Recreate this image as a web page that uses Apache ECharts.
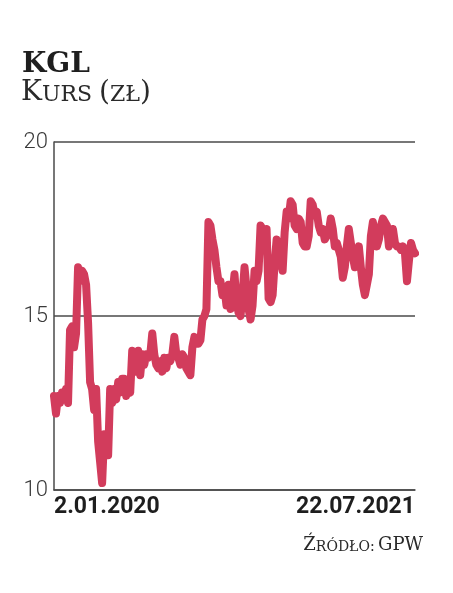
<!DOCTYPE html>
<html>
<head>
<meta charset="utf-8">
<script src="https://cdn.jsdelivr.net/npm/echarts@6/dist/echarts.min.js"></script>
<style>html,body{margin:0;padding:0;background:#fff}#c{width:453px;height:593px}</style>
</head>
<body>
<div id="c"></div>
<script>
const titleMain = 'KGL';
const xLabels = ['2.01.2020', '22.07.2021'];
const yTicks = [10, 15, 20];
const prices = [
12.7,12.2,12.7,12.5,12.8,12.6,12.9,12.5,14.6,14.7,
14.1,14.5,16.4,16.0,16.3,16.2,15.9,14.8,13.1,12.9,
12.3,12.9,11.4,10.8,10.2,11.6,11.0,11.0,12.9,12.5,
12.9,12.6,13.1,12.8,13.2,13.2,12.7,13.0,12.8,14.0,
13.9,13.4,14.0,13.3,13.9,13.6,13.9,13.8,13.9,14.5,
13.9,13.6,13.5,13.7,13.4,13.8,13.5,13.8,13.7,13.9,
14.4,13.9,13.8,13.6,13.9,13.8,13.5,13.4,13.3,14.1,
14.4,14.2,14.2,14.3,14.9,15.0,15.2,17.7,17.6,17.2,
16.9,16.4,16.0,16.0,15.6,15.8,15.3,15.9,15.2,15.6,
16.2,15.4,15.1,15.0,15.6,16.4,15.8,15.2,14.9,15.3,
16.3,16.0,16.3,17.6,17.5,17.0,17.5,15.5,15.4,15.6,
16.5,17.2,17.0,16.6,16.3,17.4,18.0,17.8,18.3,18.2,
17.6,17.5,17.8,17.7,17.1,17.0,17.0,17.3,18.3,18.2,
17.9,18.0,17.6,17.4,17.5,17.2,17.3,17.4,17.8,17.5,
17.0,17.1,16.9,16.7,16.1,16.4,17.0,17.5,17.1,16.7,
16.4,16.6,17.0,16.4,15.9,15.6,15.9,16.2,17.3,17.7,
17.3,17.0,17.2,17.6,17.8,17.7,17.6,17.0,17.2,17.5,
17.1,17.0,17.0,16.9,17.0,16.8,16.0,16.6,17.1,16.9,
16.8
];
const categories = prices.map((v, i) => String(i));
const lastIdx = categories.length - 1;

const chart = echarts.init(document.getElementById('c'), null, {renderer: 'canvas'});
chart.setOption({
  backgroundColor: '#ffffff',
  animation: false,
  grid: {left: 54, right: 38, top: 142, bottom: 103, containLabel: false},
  xAxis: {
    type: 'category',
    data: categories,
    boundaryGap: false,
    axisLine: {show: true, lineStyle: {color: '#4a4a4a', width: 1.5}},
    axisTick: {show: false},
    axisLabel: {
      interval: (i) => i === 0 || i === lastIdx,
      formatter: (v, i) => i === 0 ? xLabels[0] : (i === lastIdx ? xLabels[1] : ''),
      alignMinLabel: 'left',
      alignMaxLabel: 'right',
      showMinLabel: true,
      showMaxLabel: true,
      margin: 6,
      color: '#1e1e1e',
      fontFamily: 'Roboto',
      fontWeight: 'bold',
      fontSize: 23
    },
    splitLine: {show: false}
  },
  yAxis: {
    type: 'value',
    min: yTicks[0],
    max: yTicks[yTicks.length - 1],
    interval: 5,
    axisLine: {show: true, lineStyle: {color: '#4a4a4a', width: 1.5}},
    axisTick: {show: false},
    axisLabel: {
      margin: 6,
      color: '#3a3a3a',
      fontFamily: 'Roboto',
      fontWeight: 300,
      fontSize: 22
    },
    splitLine: {show: true, lineStyle: {color: '#4a4a4a', width: 1.5}}
  },
  series: [{
    type: 'line',
    data: prices,
    showSymbol: false,
    symbol: 'none',
    lineStyle: {color: '#d23c5c', width: 8, join: 'round', cap: 'round'},
    z: 3
  }],
  graphic: [
    {type: 'text', left: 22, top: 51, style: {text: titleMain, fontFamily: 'DejaVu Serif', fontWeight: 'bold', fontSize: 28, fill: '#1e1e1e'}},
    {type: 'text', left: 21, top: 79, style: {
      text: '{a|K}{b|URS }{a|(}{b|ZŁ}{a|)}',
      rich: {
        a: {fontFamily: 'DejaVu Serif', fontSize: 28, fill: '#2a2a2a', verticalAlign: 'bottom', lineHeight: 34},
        b: {fontFamily: 'DejaVu Serif', fontSize: 22, fill: '#2a2a2a', verticalAlign: 'bottom', lineHeight: 34, padding: [0,0,1,0]}
      }
    }},
    {type: 'text', right: 30, top: 536, style: {
      text: '{a|Ź}{b|RÓDŁO:} {a|GPW}',
      rich: {
        a: {fontFamily: 'DejaVu Serif', fontSize: 18, fill: '#2a2a2a', verticalAlign: 'bottom', lineHeight: 24},
        b: {fontFamily: 'DejaVu Serif', fontSize: 14, fill: '#2a2a2a', verticalAlign: 'bottom', lineHeight: 24}
      }
    }}
  ]
});
</script>
</body>
</html>
